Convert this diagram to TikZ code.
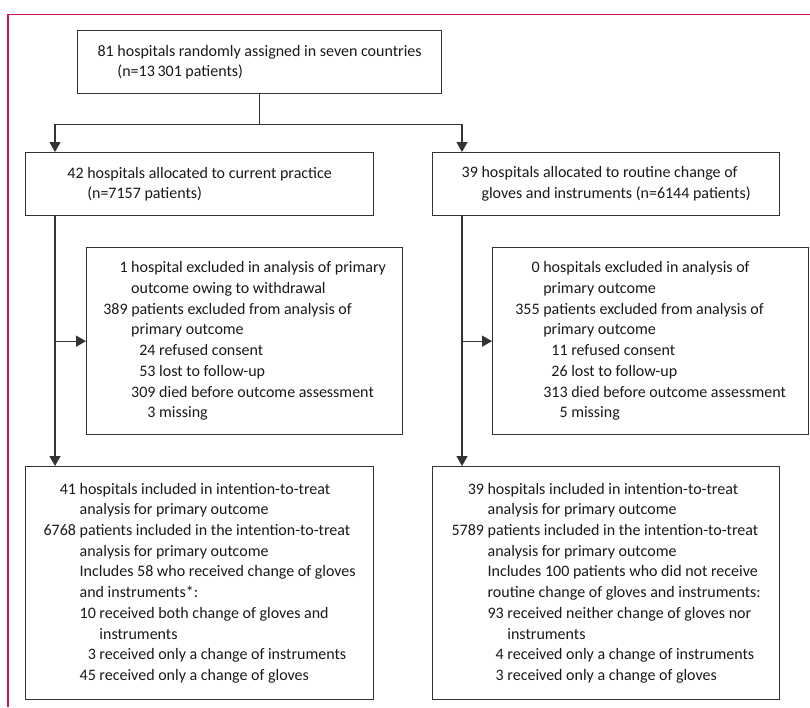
\documentclass[tikz,border=0pt]{standalone}
\usepackage{fontspec}
\setmainfont{Carlito}
\usetikzlibrary{arrows.meta,calc}
\definecolor{rim}{RGB}{204,22,72}
\tikzset{box/.style={draw=black!80, line width=1.3pt, text=black!90, align=left, inner sep=0pt, anchor=north west, font=\fontsize{16pt}{20.7pt}\selectfont}, arr/.style={draw=black!80, line width=1.3pt, -{Triangle[length=10pt,width=11pt]}}, rimline/.style={draw=rim, line width=1.3pt}}

\begin{document}
\begin{tikzpicture}[x=1pt, y=-1pt]
    \useasboundingbox (0,0) rectangle (810,707);
    \draw[rimline] (810,14.5) -- (8,14.5) -- (8,707);
    % randomisation
    \node[box, minimum width=364pt, minimum height=63pt] (rand) at (77,30) {81 hospitals randomly assigned in seven countries\\ \hphantom{81} (n=13\,301 patients)};
    % allocation
    \node[box, minimum width=348pt, minimum height=63pt] (ctrl) at (25,152) {42 hospitals allocated to current practice\\ \hphantom{42} (n=7157 patients)};
    \node[box, minimum width=347pt, minimum height=63pt] (intv) at (432,152) {39 hospitals allocated to routine change of\\ \hphantom{39} gloves and instruments (n=6144 patients)};
    % exclusions
    \node[box, minimum width=316pt, minimum height=187pt] (ctrlex) at (86,247) {\hphantom{00}1 hospital excluded in analysis of primary\\ \hphantom{000} outcome owing to withdrawal\\ 389 patients excluded from analysis of\\ \hphantom{000} primary outcome\\ \hphantom{000} \hphantom{0}24 refused consent\\ \hphantom{000} \hphantom{0}53 lost to follow-up\\ \hphantom{000} 309 died before outcome assessment\\ \hphantom{000} \hphantom{00}3 missing};
    \node[box, minimum width=316pt, minimum height=187pt] (intvex) at (492,247) {\hphantom{00}0 hospitals excluded in analysis of\\ \hphantom{000} primary outcome\\ 355 patients excluded from analysis of\\ \hphantom{000} primary outcome\\ \hphantom{000} \hphantom{0}11 refused consent\\ \hphantom{000} \hphantom{0}26 lost to follow-up\\ \hphantom{000} 313 died before outcome assessment\\ \hphantom{000} \hphantom{00}5 missing};
    % intention-to-treat
    \node[box, minimum width=348pt, minimum height=233pt] (ctrlitt) at (25,466) {\hphantom{00}41 hospitals included in intention-to-treat\\ \hphantom{0000} analysis for primary outcome\\ 6768 patients included in the intention-to-treat\\ \hphantom{0000} analysis for primary outcome\\ \hphantom{0000} Includes 58 who received change of gloves\\ \hphantom{0000} and instruments*:\\ \hphantom{0000} 10 received both change of gloves and\\ \hphantom{0000} \hphantom{00} instruments\\ \hphantom{0000} \hphantom{0}3 received only a change of instruments\\ \hphantom{0000} 45 received only a change of gloves};
    \node[box, minimum width=347pt, minimum height=233pt] (intvitt) at (432,466) {\hphantom{00}39 hospitals included in intention-to-treat\\ \hphantom{0000} analysis for primary outcome\\ 5789 patients included in the intention-to-treat\\ \hphantom{0000} analysis for primary outcome\\ \hphantom{0000} Includes 100 patients who did not receive\\ \hphantom{0000} routine change of gloves and instruments:\\ \hphantom{0000} 93 received neither change of gloves nor\\ \hphantom{0000} \hphantom{00} instruments\\ \hphantom{0000} \hphantom{0}4 received only a change of instruments\\ \hphantom{0000} \hphantom{0}3 received only a change of gloves};
    % connectors
    \draw[draw=black!80, line width=1.3pt] (rand.south) -- ++(0,30) coordinate (split);
    \draw[arr] (split) -| ($(ctrl.north west)+(30,0)$);
    \draw[arr] (split) -| ($(intv.north west)+(30,0)$);
    \coordinate (ctrldown) at ($(ctrl.south west)+(30,0)$);
    \coordinate (intvdown) at ($(intv.south west)+(30,0)$);
    \draw[arr] (ctrldown) -- (ctrldown |- ctrlitt.north);
    \draw[arr] (intvdown) -- (intvdown |- intvitt.north);
    \draw[arr] (ctrldown |- ctrlex.west) -- (ctrlex.west);
    \draw[arr] (intvdown |- intvex.west) -- (intvex.west);
\end{tikzpicture}
\end{document}
